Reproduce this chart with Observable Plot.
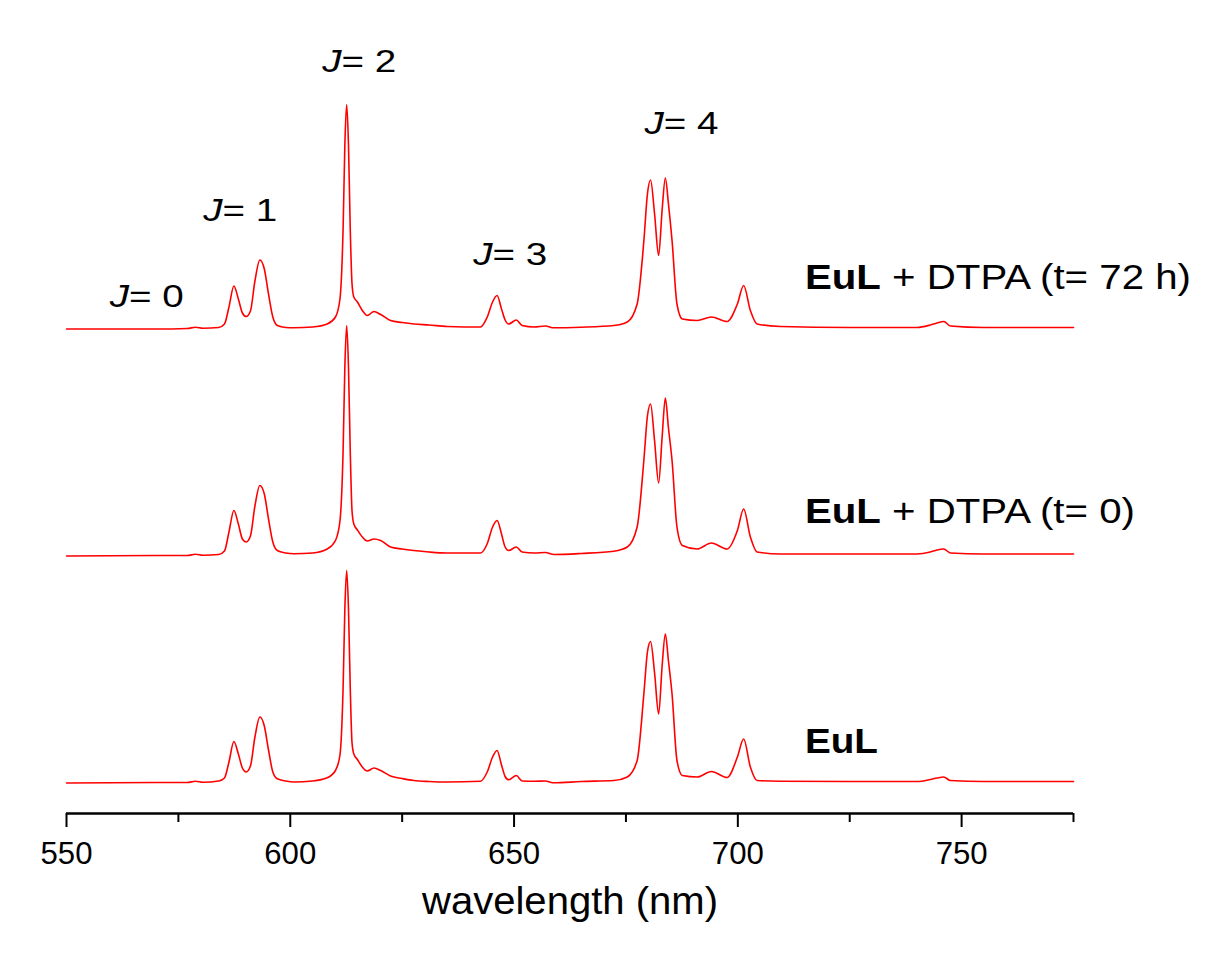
<!DOCTYPE html>
<html>
<head>
<meta charset="utf-8">
<script src="https://cdn.jsdelivr.net/npm/d3@7"></script>
<script src="https://cdn.jsdelivr.net/npm/@observablehq/plot@0.6"></script>
<style>
  html, body { margin: 0; padding: 0; background: #ffffff; }
  #chart svg text { white-space: pre; }
</style>
</head>
<body>
<div id="chart"></div>
<script>
// Wavelength sampling (nm)
const wavelength = [550, 570, 577, 578.8, 580.5, 584, 585.3, 586.3, 587.4, 588.4,
  589.3, 590.15, 591.1, 592.1, 593.2, 594.2, 595.1, 596.1, 597.1, 599,
  600.8, 605, 608.25, 610.1, 611.1, 611.8, 612.2, 612.6, 613.0, 613.4,
  613.8, 614.2, 615.0, 616.1, 617.2, 618.7, 620.2, 622.4, 625, 627.6,
  631, 635.1, 642.5, 644.0, 645.2, 646.2, 647.2, 648.0, 648.8, 650.5,
  651.8, 654.5, 657.0, 658.9, 665, 672.3, 675.3, 677.5, 679.0, 679.8,
  680.5, 681.4, 682.3, 683.1, 683.8, 684.5, 685.3, 686.4, 687.6, 690.9,
  694.1, 697.6, 699.9, 701.3, 702.8, 704.3, 709.5, 725, 740, 743,
  744.5, 746.0, 747.5, 755, 775];

// Emission intensity above each trace's baseline (a.u.)
const intensityEuL = [0, 0.5, 0.5, 1.8, 0.8, 2, 5, 21, 41.5, 29,
  15, 11, 17, 46, 66, 57, 34, 11, 4.2, 2,
  1, 2, 5.2, 12.5, 28, 95, 175, 212.5, 175, 95,
  40, 29, 23.5, 16, 12, 15, 12.5, 7, 4.5, 2.5,
  1.5, 1, 1.8, 11, 26, 32.5, 18, 6.5, 3.2, 7.5,
  2, 1.8, 2, 0.2, 1.5, 2.5, 6, 22.5, 89, 131,
  141.5, 110, 69, 118, 149, 122, 89, 22.5, 7.5, 6,
  11.5, 5.5, 26, 44, 16, 2.5, 1.8, 1.5, 1.5, 3.5,
  5, 6, 2.5, 1.5, 1.5];

const intensityT0 = [0, 0.5, 0.5, 1.8, 0.8, 1.5, 5, 24, 45.5, 32,
  17, 14, 20, 50, 70.5, 62, 38, 14, 5.5, 3,
  2.2, 3, 7, 15.5, 35, 105, 190, 230.5, 190, 105,
  45, 32, 26, 19, 15, 17, 15.5, 9, 7, 5.5,
  4, 3, 3, 12.2, 29, 35.5, 22, 9, 5.5, 9,
  4, 3, 3.5, 1.5, 2.5, 4.8, 9, 29, 95.5, 140,
  152, 115, 73, 120, 158, 128, 95.5, 29, 10.5, 7,
  13, 7, 25.5, 47, 19, 4, 2, 2, 2, 4,
  6, 7, 3, 2, 2];

const intensityT72 = [0, 0, 0.5, 1.8, 0.8, 1.5, 5, 22, 43, 30,
  16, 12.5, 18, 48, 69, 60, 36, 12, 3.5, 1.5,
  1.2, 2, 5, 12, 30, 100, 185, 224.5, 185, 100,
  45, 32, 27, 18.5, 13.5, 17.5, 14.5, 8.5, 6.5, 5,
  4, 2.5, 2, 11.8, 27, 33.5, 20, 9, 5, 9,
  3.5, 2, 3, 1.2, 1.8, 3.5, 7, 25, 88, 135,
  149, 115, 73.5, 120, 151, 125, 88.5, 25, 10, 8.5,
  12, 7.5, 25, 43.5, 18.5, 5, 2.5, 1.5, 1.5, 4,
  6, 7.5, 3, 1.5, 1.5];

const seriesNames = ["EuL", "EuL + DTPA (t= 0)", "EuL + DTPA (t= 72 h)"];
const seriesOffset = [30.5, 257.5, 484.5];   // vertical stacking offset (a.u.)
const seriesLabelX = [715, 715, 715];
const seriesLabelY = [72.2, 301.5, 535.9];

const jLabels = ["J= 0", "J= 1", "J= 2", "J= 3", "J= 4"];
const jLabelX = [559.67, 580.54, 607.13, 640.87, 679.15];
const jLabelY = [516.3, 602.3, 751.3, 558.0, 689.7];

const majorTicks = [550, 600, 650, 700, 750];
const minorTicks = [575, 625, 675, 725, 775];
const xTitle = "wavelength (nm)";

// Build table for the library
const seriesValues = [intensityEuL, intensityT0, intensityT72];
const rows = [];
seriesNames.forEach((name, s) => {
  wavelength.forEach((w, i) => {
    rows.push({series: name, wl: w, value: seriesOffset[s] + seriesValues[s][i]});
  });
});
const seriesLabelRows = seriesNames.map((t, i) => ({t, x: seriesLabelX[i], y: seriesLabelY[i]}));
const jRows = jLabels.map((t, i) => ({t, x: jLabelX[i], y: jLabelY[i]}));

const font = "'Liberation Sans', Arial, Helvetica, sans-serif";

const chart = Plot.plot({
  width: 1205,
  height: 954,
  marginLeft: 66,
  marginRight: 132,
  marginTop: 0,
  marginBottom: 141,
  style: {background: "#ffffff", fontFamily: font, color: "#000", overflow: "visible"},
  x: {domain: [550, 775], label: null},
  y: {domain: [0, 813], axis: null},
  marks: [
    Plot.line(rows, {x: "wl", y: "value", z: "series", stroke: "#ff0000", strokeWidth: 1.6, curve: "monotone-x"}),
    Plot.ruleY([0], {stroke: "#000", strokeWidth: 2.4}),
    Plot.axisX({ticks: majorTicks, tickSize: 14, tickPadding: 14, strokeWidth: 2, fontSize: 31, fill: "#000", label: null}),
    Plot.axisX({ticks: minorTicks, tickSize: 9, tickFormat: () => "", strokeWidth: 2, label: null}),
    Plot.text([xTitle], {frameAnchor: "bottom", dy: 100, text: d => d, fontSize: 38, fill: "#000"}),
    Plot.text(jRows, {x: "x", y: "y", text: "t", textAnchor: "start", fontSize: 31, fill: "#000"}),
    Plot.text(seriesLabelRows, {x: "x", y: "y", text: "t", textAnchor: "start", fontSize: 35, fill: "#000"})
  ]
});

// Rich text styling (italic J, bold EuL) and widths matching the reference lettering
const widths = {"wavelength (nm)": 296, "EuL + DTPA (t= 72 h)": 386, "EuL + DTPA (t= 0)": 330, "EuL": 73};
d3.select(chart).selectAll("text").each(function() {
  const el = d3.select(this);
  const txt = this.textContent;
  if (/^J= \d$/.test(txt)) {
    el.text(null);
    el.append("tspan").attr("font-style", "italic").text("J");
    el.append("tspan").text(txt.slice(1));
    el.attr("textLength", 74).attr("lengthAdjust", "spacingAndGlyphs");
  } else if (txt.startsWith("EuL")) {
    el.text(null);
    el.append("tspan").attr("font-weight", "bold").text("EuL");
    if (txt.length > 3) el.append("tspan").text(txt.slice(3));
    el.attr("textLength", widths[txt]).attr("lengthAdjust", "spacingAndGlyphs");
  } else if (txt === xTitle) {
    el.attr("textLength", widths[txt]).attr("lengthAdjust", "spacingAndGlyphs");
  } else if (/^\d{3}$/.test(txt)) {
    el.attr("textLength", 52).attr("lengthAdjust", "spacingAndGlyphs");
  }
});

document.getElementById("chart").appendChild(chart);
</script>
</body>
</html>
